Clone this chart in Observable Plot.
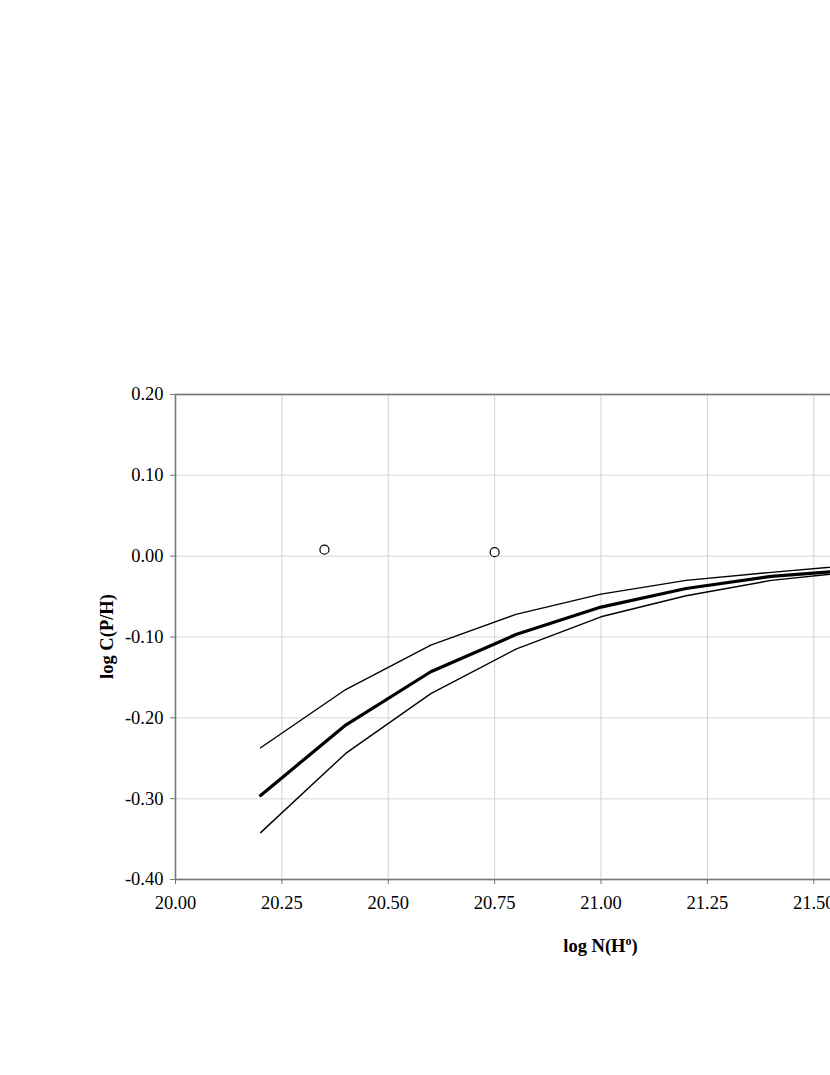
<!DOCTYPE html>
<html><head><meta charset="utf-8">
<script src="https://cdn.jsdelivr.net/npm/d3@7"></script>
<script src="https://cdn.jsdelivr.net/npm/@observablehq/plot@0.6"></script>
<style>html,body{margin:0;padding:0;overflow:hidden;background:#fff;} svg{display:block;max-width:none !important;}</style>
</head><body><div id="chart"></div>
<script>
// model curves (log N(H0) grid)
const xGrid  = [20.2, 20.4, 20.6, 20.8, 21.0, 21.2, 21.4, 21.6];
const upper  = [-0.237, -0.165, -0.110, -0.072, -0.047, -0.030, -0.020, -0.011];
const middle = [-0.296, -0.209, -0.143, -0.097, -0.063, -0.040, -0.025, -0.017];
const lower  = [-0.342, -0.244, -0.170, -0.115, -0.075, -0.049, -0.030, -0.019];
// observed points
const obsX = [20.35, 20.75];
const obsY = [0.008, 0.005];
// ticks
const xTicks = [20.00, 20.25, 20.50, 20.75, 21.00, 21.25, 21.50, 21.75, 22.00];
const yTicks = [-0.40, -0.30, -0.20, -0.10, 0.00, 0.10, 0.20];
const xTitle = ["log N(H", "o", ")"];
const yTitle = "log C(P/H)";

const toRows = ys => xGrid.map((x, i) => ({x, y: ys[i]}));
const obs = obsX.map((x, i) => ({x, y: obsY[i]}));
const fmt = d => d.toFixed(2);

const chart = Plot.plot({
  width: 1061,
  height: 1075,
  marginLeft: 175,
  marginRight: 35,
  marginTop: 394,
  marginBottom: 196,
  style: {fontFamily: "'Liberation Serif', 'Times New Roman', serif", fontSize: "18.5px", color: "black", background: "white", maxWidth: "none"},
  x: {domain: [20, 22]},
  y: {domain: [-0.4, 0.2]},
  marks: [
    Plot.gridY(yTicks, {stroke: "#e4e4e4", strokeOpacity: 1, strokeWidth: 1.5}),
    Plot.gridX(xTicks, {stroke: "#d2d2d2", strokeOpacity: 1, strokeWidth: 1}),
    Plot.axisY(yTicks, {tickFormat: fmt, tickSize: 5, tickPadding: 7, stroke: "#777", fill: "black", fontSize: 18.5, label: null}),
    Plot.axisX(xTicks, {tickFormat: fmt, tickSize: 5, tickPadding: 11, stroke: "#777", fill: "black", fontSize: 18.5, label: null}),
    Plot.frame({stroke: "#777", strokeWidth: 1.6}),
    Plot.line(toRows(upper), {x: "x", y: "y", stroke: "black", strokeWidth: 1.4}),
    Plot.line(toRows(lower), {x: "x", y: "y", stroke: "black", strokeWidth: 1.4}),
    Plot.line(toRows(middle), {x: "x", y: "y", stroke: "black", strokeWidth: 3.2}),
    Plot.dot(obs, {x: "x", y: "y", r: 4.5, stroke: "black", strokeWidth: 1.2, fill: "white"})
  ]
});
chart.style.maxWidth = "none";
chart.style.width = "1061px";
chart.style.height = "1075px";
document.getElementById("chart").appendChild(chart);

// axis titles
const sx = chart.scale("x"), sy = chart.scale("y");
const svg = d3.select(chart);
const cx = (sx.range[0] + sx.range[1]) / 2;
const cy = (sy.range[0] + sy.range[1]) / 2;
const xt = svg.append("text")
  .attr("x", cx).attr("y", sy.range[0] + 73)
  .attr("text-anchor", "middle")
  .attr("font-weight", "bold").attr("font-size", 18.5)
  .attr("font-family", "'Liberation Serif', serif").attr("fill", "black");
xt.append("tspan").text(xTitle[0]);
xt.append("tspan").attr("dy", -7).attr("font-size", 12).text(xTitle[1]);
xt.append("tspan").attr("dy", 7).text(xTitle[2]);
svg.append("text")
  .attr("transform", `translate(${sx.range[0] - 62},${cy}) rotate(-90)`)
  .attr("text-anchor", "middle")
  .attr("font-weight", "bold").attr("font-size", 18.5)
  .attr("font-family", "'Liberation Serif', serif").attr("fill", "black")
  .text(yTitle);
</script>
</body></html>
